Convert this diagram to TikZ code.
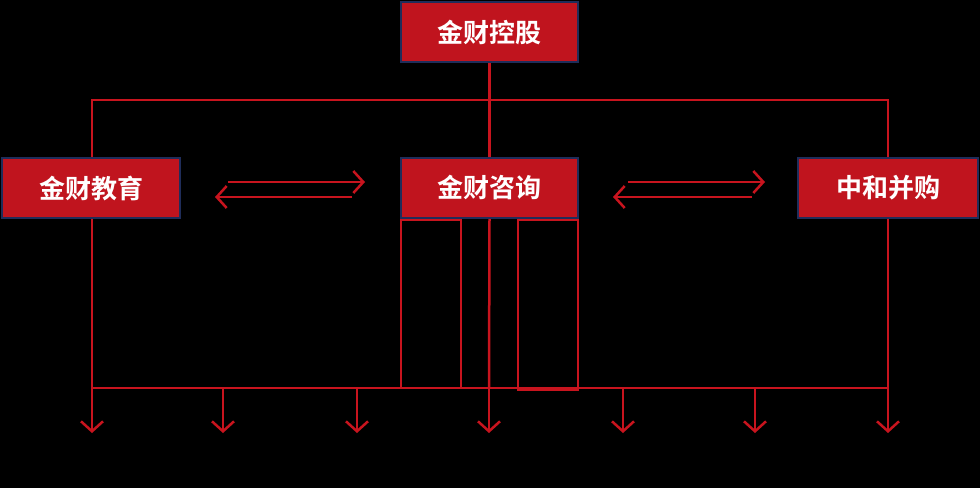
\documentclass[tikz,border=0pt]{standalone}
\usepackage{fontspec}
\newfontfamily\cjk{Noto Sans CJK SC}[BoldFont={Noto Sans CJK SC Bold}]
\usetikzlibrary{arrows.meta}
\definecolor{boxred}{HTML}{C0141E}
\definecolor{navy}{HTML}{1F2D5A}
\definecolor{lred}{HTML}{C8141E}
\begin{document}
\begin{tikzpicture}[x=1pt,y=-1pt,
  box/.style={draw=navy,line width=2pt,fill=boxred,text=white,font=\cjk\bfseries\fontsize{26}{30}\selectfont,minimum width=177pt,minimum height=60pt,inner sep=0pt},
  ln/.style={draw=lred,line width=2.5pt},
  arr/.style={ln,-{Straight Barb[length=10pt,width=22pt,line width=2.5pt]}}]
\fill[black] (0,0) rectangle (980,488);
\node[box] (top) at (489.5,32) {金财控股};
\node[box,minimum width=178pt] (edu) at (91,188) {金财教育};
\node[box] (con) at (489.5,188) {金财咨询};
\node[box,minimum width=180pt] (mer) at (888,188) {中和并购};
\coordinate (tl) at (92,100); \coordinate (tr) at (888,100);
\draw[ln] (top.south) -- (con.north);
\draw[ln] (edu.north -| tl) -- (tl) -- (tr) -- (mer.north -| tr);
\draw[ln] (401,220) rectangle (461,388);
\draw[ln] (518,220) rectangle (578,390);
\draw[ln] (92,388) -- (888,388);
\foreach \x/\n in {92/a,223/b,357/c,489/d,623/e,755/f,888/g}{
  \coordinate (s\n) at (\x,388); \coordinate (e\n) at (\x,433);
  \draw[arr] (s\n) -- (e\n);}
\draw[ln] (edu.south -| sa) -- (sa);
\draw[ln] (mer.south -| sg) -- (sg);
\draw[ln] (con.south) -- (sd);
\coordinate (l1) at (228,182); \coordinate (l2) at (365,182);
\coordinate (l3) at (352,197); \coordinate (l4) at (215,197);
\draw[arr] (l1) -- (l2); \draw[arr] (l3) -- (l4);
\coordinate (r1) at (628,182); \coordinate (r2) at (765,182);
\coordinate (r3) at (752,197); \coordinate (r4) at (613,197);
\draw[arr] (r1) -- (r2); \draw[arr] (r3) -- (r4);
\end{tikzpicture}
\end{document}
